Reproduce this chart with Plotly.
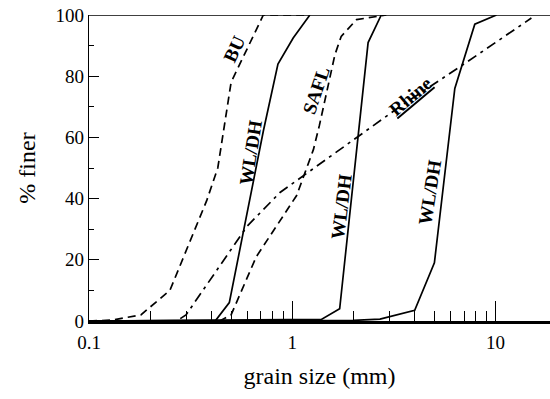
import math
import plotly.graph_objects as go

# grain size (mm) and % finer for each curve
bu_x = [0.1, 0.13, 0.18, 0.25, 0.38, 0.43, 0.50, 0.72, 1.2]
bu_y = [0, 0.3, 2, 10, 39.5, 50, 78, 100, 100]

wl1_x = [0.1, 0.42, 0.49, 0.72, 0.85, 1.01, 1.22]
wl1_y = [0, 0.2, 6, 62, 84, 92.5, 100]

safl_x = [0.1, 0.44, 0.50, 0.665, 1.05, 1.27, 1.36, 1.62, 1.74, 2.07, 2.9]
safl_y = [0, 0, 2, 21, 41, 56, 64, 87, 93, 98.5, 100]

rhine_x = [0.1, 0.27, 0.30, 0.60, 0.87, 3.37, 6.65, 15.0]
rhine_y = [0, 0, 2, 31, 42, 70, 83, 99]

wl2_x = [0.1, 1.39, 1.71, 2.36, 2.74]
wl2_y = [0, 0.5, 4, 91, 100]

wl3_x = [0.1, 1.4, 2.0, 2.7, 4.0, 5.0, 6.3, 7.9, 10.1]
wl3_y = [0, 0, 0.2, 0.6, 3.5, 19, 76, 97, 100]

x_ticks = [0.1, 1, 10]
x_ticktext = ["0.1", "1", "10"]
x_minor = [0.2, 0.3, 0.4, 0.5, 0.6, 0.7, 0.8, 0.9, 2, 3, 4, 5, 6, 7, 8, 9]
y_ticks = [0, 20, 40, 60, 80, 100]
y_minor = [10, 30, 50, 70, 90]

# curve labels: text, grain size, % finer, angle
label_text = ["BU", "WL/DH", "SAFL", "Rhine", "WL/DH", "WL/DH"]
label_x = [0.52, 0.625, 1.32, 3.8, 1.75, 4.74]
label_y = [89, 55, 75.5, 73.5, 37.3, 42]
label_ang = [-65, -81, -71, -40, -83, -81]

FONT = "Liberation Serif"
DASH = "8px,5px"
DASHDOT = "10px,5px,3px,5px"

fig = go.Figure()
def add(x, y, dash):
    fig.add_trace(go.Scatter(x=x, y=y, mode="lines",
                             line=dict(color="black", width=1.7, dash=dash),
                             showlegend=False, hoverinfo="skip"))

add(bu_x, bu_y, DASH)
add(wl1_x, wl1_y, "solid")
add(safl_x, safl_y, DASH)
add(rhine_x, rhine_y, DASHDOT)
add(wl2_x, wl2_y, "solid")
add(wl3_x, wl3_y, "solid")

for txt, x, y, ang in zip(label_text, label_x, label_y, label_ang):
    if txt == "Rhine":
        txt = "<span style='text-decoration:underline'>Rhine</span>"
    fig.add_annotation(x=math.log10(x), y=y, text="<b>" + txt + "</b>",
                       showarrow=False, textangle=ang,
                       font=dict(family=FONT, size=19, color="black"))

# top border
fig.add_shape(type="line", xref="paper", yref="y", x0=0, x1=1, y0=100, y1=100,
              line=dict(color="black", width=1.3))

fig.update_xaxes(type="log", range=[-1, -1 + 461 / 203.3],
                 tickvals=x_ticks, ticktext=x_ticktext,
                 ticks="inside", ticklen=20, tickwidth=1, tickcolor="black",
                 minor=dict(ticks="inside", ticklen=10, tickwidth=1, tickcolor="black",
                            tickvals=x_minor, showgrid=False),
                 showline=True, linecolor="black", linewidth=2.5,
                 showgrid=False, zeroline=False, automargin=False,
                 ticklabelstandoff=2,
                 tickfont=dict(family=FONT, size=19, color="black"),
                 title=dict(text="grain size (mm)", font=dict(family=FONT, size=24, color="black"),
                            standoff=16))
fig.update_yaxes(range=[0, 100], tickvals=y_ticks,
                 ticks="inside", ticklen=10, tickwidth=1, tickcolor="black",
                 minor=dict(ticks="inside", ticklen=5, tickwidth=1, tickcolor="black",
                            tickvals=y_minor, showgrid=False),
                 showline=True, linecolor="black", linewidth=1.3,
                 showgrid=False, zeroline=False, automargin=False,
                 ticklabelstandoff=0,
                 tickfont=dict(family=FONT, size=19, color="black"),
                 title=dict(text="% finer", font=dict(family=FONT, size=24, color="black"),
                            standoff=13))

fig.update_layout(width=550, height=399, plot_bgcolor="white", paper_bgcolor="white",
                  margin=dict(l=89, r=0, t=15, b=78, autoexpand=False), showlegend=False)

# remove the browser's default 8px body margin so the figure fills the window
fig.write_html("out.html", config={"displayModeBar": False},
               post_script="document.body.style.margin='0';")
